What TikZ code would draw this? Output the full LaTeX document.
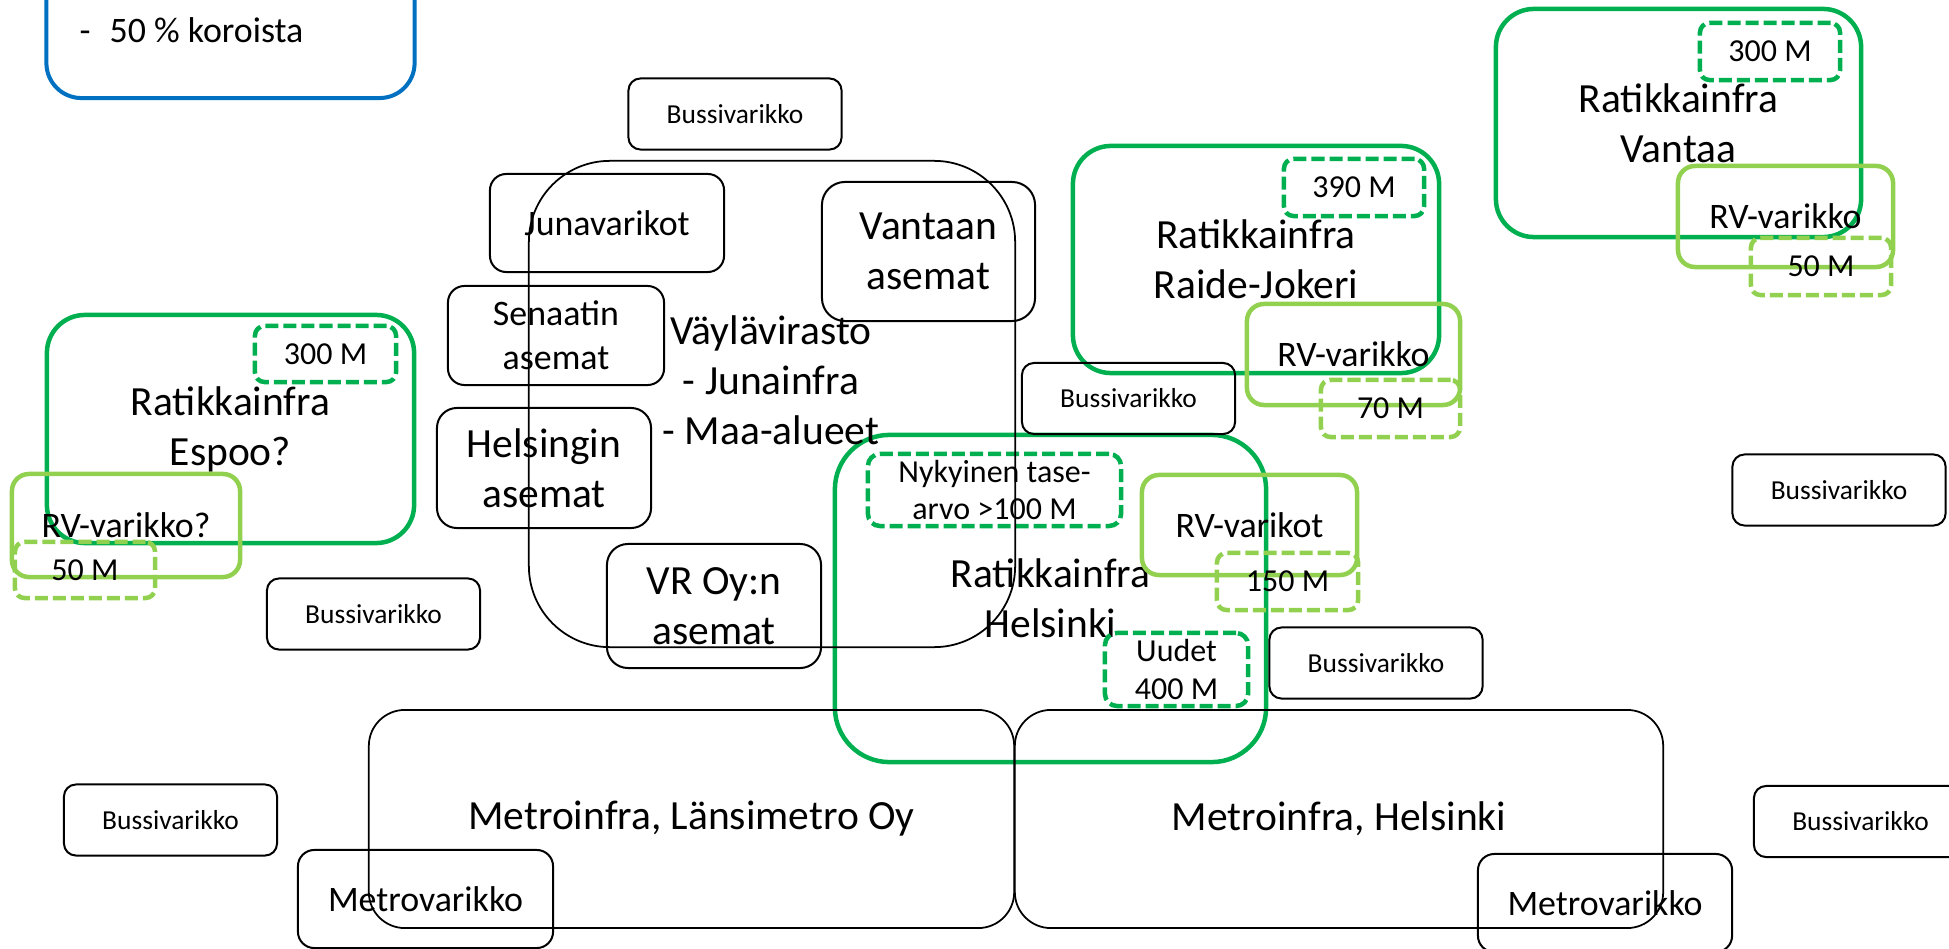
\documentclass[tikz,border=0pt]{standalone}
\usepackage{fontspec}
\setmainfont{Carlito}
\usepackage{tikz}
\definecolor{ratikka}{RGB}{0,176,80}
\definecolor{varikko}{RGB}{146,208,80}
\definecolor{valtio}{RGB}{0,112,192}
\newcommand*{\bigtxt}{\fontsize{11.8}{14.2}\selectfont}
\newcommand*{\midtxt}{\fontsize{10.2}{12.5}\selectfont}
\newcommand*{\smalltxt}{\fontsize{9.1}{10.8}\selectfont}
\newcommand*{\bustxt}{\fontsize{7.8}{9.4}\selectfont}

\begin{document}
\begin{tikzpicture}[x=0.01cm,y=-0.01cm]
				\tikzset{box/.style = {draw=black, line width=0.57pt, inner sep=0pt, align=center}}
				\tikzset{busbox/.style = {box, rounded corners=0.12cm, minimum width=2.13cm, minimum height=0.71cm, font=\bustxt}}
				\tikzset{ratik/.style = {draw=ratikka, line width=1.28pt, inner sep=0pt, align=center}}
				\tikzset{summa/.style = {ratik, dash pattern=on 0.13cm off 0.05cm, rounded corners=0.095cm, minimum width=1.40cm, minimum height=0.57cm, font=\smalltxt}}
				\tikzset{rv/.style = {draw=varikko, line width=1.28pt, inner sep=0pt, align=center, rounded corners=0.17cm, minimum width=2.15cm, minimum height=1.01cm, font=\midtxt}}
				\tikzset{rvsumma/.style = {summa, draw=varikko}}
				
				\useasboundingbox (0,0) rectangle (1949,949);
				\clip (0,0) rectangle (1949,949);
				
				\node[box, draw=valtio, line width=1.14pt, rounded corners=0.35cm, minimum width=3.68cm, minimum height=2.10cm] (valtio) at (230.5,-7) {};
				\node[anchor=base west, inner sep=0pt, font=\midtxt] (valtioteksti) at (79,43) {-\hspace{0.19cm}50 \% koroista};
				
				%%%%%%%%%%%%%%%%%%%%%%%%%%%%%%
				
				\node[ratik, rounded corners=0.38cm, minimum width=3.67cm, minimum height=2.28cm, font=\bigtxt] (espoo) at (230.5,429) {Ratikkainfra\\Espoo?};
				\node[ratik, rounded corners=0.38cm, minimum width=3.66cm, minimum height=2.27cm, font=\bigtxt] (jokeri) at (1256,259.5) {Ratikkainfra\\Raide-Jokeri};
				\node[ratik, rounded corners=0.38cm, minimum width=3.65cm, minimum height=2.28cm, font=\bigtxt] (vantaa) at (1678.5,123) {Ratikkainfra\\Vantaa};
				\node[ratik, rounded corners=0.545cm, minimum width=4.31cm, minimum height=3.27cm, font=\bigtxt] (helsinki) at (1050.5,598.5) {Ratikkainfra\\Helsinki};
				
				\node[summa, minimum width=1.41cm, minimum height=0.56cm] (espooM) at (325.5,354) {300 M};
				\node[summa] (jokeriM) at (1354,187.5) {390 M};
				\node[summa] (vantaaM) at (1770,51.5) {300 M};
				\node[summa, rounded corners=0.12cm, minimum width=2.53cm, minimum height=0.72cm] (tasearvo) at (994.5,490) {Nykyinen tase-\\arvo >100 M};
				\node[summa, rounded corners=0.12cm, minimum width=1.43cm, minimum height=0.73cm] (uudet) at (1176.5,669.5) {Uudet\\400 M};
				
				\node[rv, minimum width=2.28cm, minimum height=1.03cm] (espooRV) at (126,525.5) {RV-varikko?};
				\node[rv, minimum width=2.13cm] (jokeriRV) at (1353.5,354.5) {RV-varikko};
				\node[rv] (vantaaRV) at (1785.5,216.5) {RV-varikko};
				\node[rv, minimum height=1.00cm] (helsinkiRV) at (1249.5,525) {RV-varikot};
				
				\node[rvsumma, minimum height=0.56cm] (espooRVM) at (85,570) {50 M};
				\node[rvsumma, minimum width=1.39cm] (jokeriRVM) at (1390.5,408.5) {70 M};
				\node[rvsumma] (vantaaRVM) at (1821,266.5) {50 M};
				\node[rvsumma, minimum width=1.41cm] (helsinkiRVM) at (1287.5,581.5) {150 M};
				
				%%%%%%%%%%%%%%%%%%%%%%%%%%%%%%
				
				\node[box, line width=0.5pt, rounded corners=0.81cm, minimum width=4.86cm, minimum height=4.86cm] (vayla) at (772,404) {};
				\node[align=center, inner sep=0pt, font=\bigtxt] (vaylateksti) at (771,380) {Väylävirasto\\- Junainfra\\- Maa-alueet};
				
				\node[box, rounded corners=0.163cm, minimum width=2.34cm, minimum height=0.98cm, font=\midtxt] (junavarikot) at (607,223) {Junavarikot};
				\node[box, rounded corners=0.23cm, minimum width=2.13cm, minimum height=1.39cm, font=\bigtxt] (vantaanasemat) at (928.5,251.5) {Vantaan\\asemat};
				\node[box, rounded corners=0.165cm, minimum width=2.16cm, minimum height=0.99cm, font=\midtxt] (senaatti) at (556,335.5) {Senaatin\\asemat};
				\node[box, rounded corners=0.2cm, minimum width=2.14cm, minimum height=1.20cm, font=\bigtxt] (helsinginasemat) at (544,468) {Helsingin\\asemat};
				\node[box, rounded corners=0.21cm, minimum width=2.14cm, minimum height=1.24cm, font=\bigtxt] (vrasemat) at (714,606) {VR Oy:n\\asemat};
				
				\node[busbox] (bus1) at (735,114) {Bussivarikko};
				\node[busbox] (bus2) at (1128.5,398.5) {Bussivarikko};
				\node[busbox] (bus3) at (1839,490) {Bussivarikko};
				\node[busbox] (bus4) at (373.5,614) {Bussivarikko};
				\node[busbox] (bus5) at (1376,663) {Bussivarikko};
				\node[busbox] (bus6) at (170.5,820) {Bussivarikko};
				\node[busbox] (bus7) at (1860.5,821.5) {Bussivarikko};
				
				%%%%%%%%%%%%%%%%%%%%%%%%%%%%%%
				
				\node[box, line width=0.5pt, rounded corners=0.36cm, minimum width=6.45cm, minimum height=2.18cm, font=\bigtxt] (lansimetro) at (691.5,819) {Metroinfra, Länsimetro Oy};
				\node[box, line width=0.5pt, rounded corners=0.36cm, minimum width=6.48cm, minimum height=2.18cm, font=\bigtxt] (helsinkimetro) at (1339,819) {Metroinfra, Helsinki};
				\node[box, rounded corners=0.163cm, minimum width=2.55cm, minimum height=0.98cm, font=\midtxt] (metrovarikko1) at (425.5,899) {Metrovarikko};
				\node[box, rounded corners=0.163cm, minimum width=2.54cm, minimum height=0.98cm, font=\midtxt] (metrovarikko2) at (1605,903) {Metrovarikko};
				
\end{tikzpicture}
\end{document}
